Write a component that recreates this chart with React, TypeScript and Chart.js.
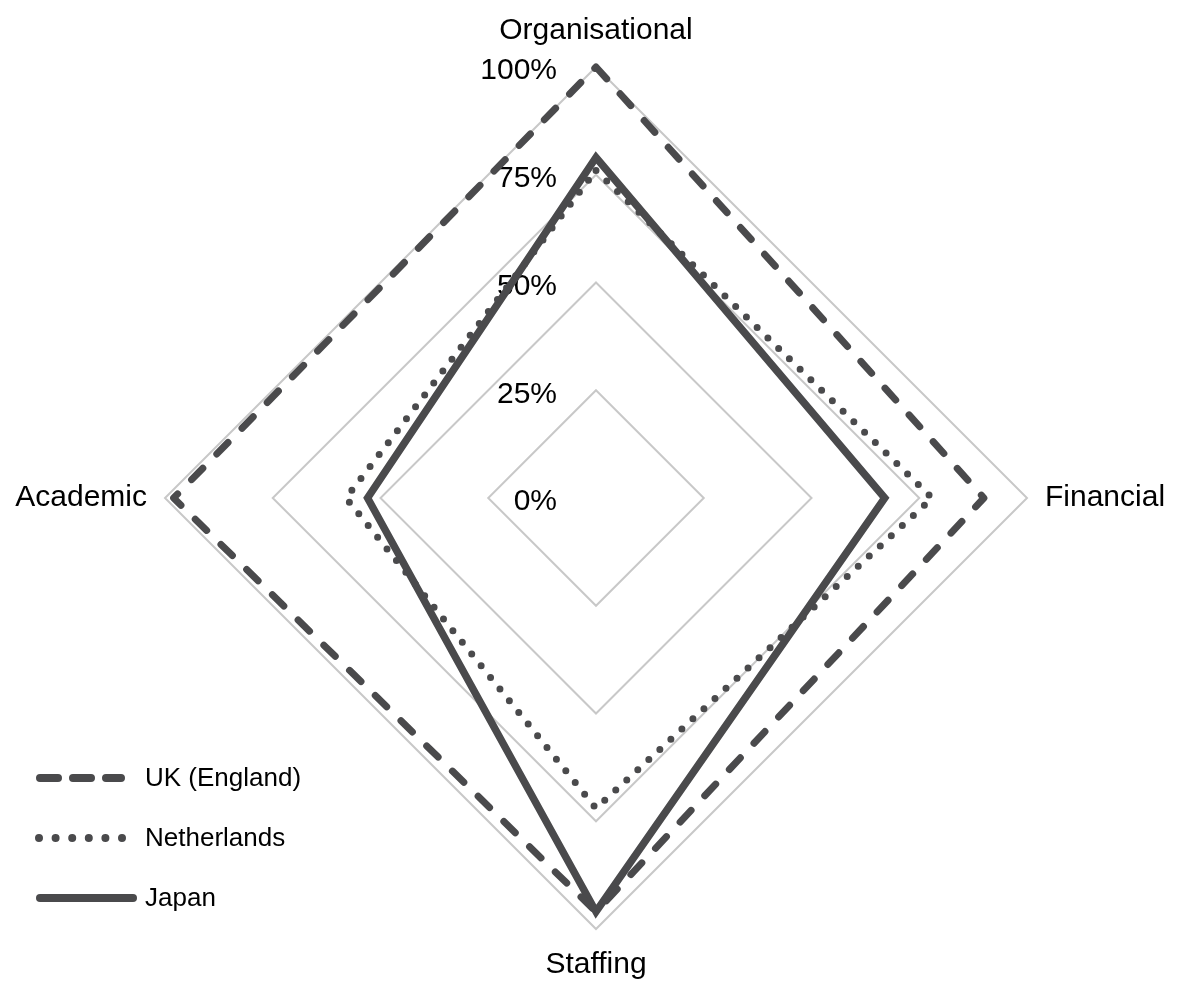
import { useEffect, useRef } from 'react';
import { Chart, registerables } from 'chart.js';

Chart.register(...registerables);

const categories = ['Organisational', 'Financial', 'Staffing', 'Academic'];
const seriesNames = ['UK (England)', 'Netherlands', 'Japan'];
const ukValues = [100, 90, 96, 98];
const nlValues = [76, 78, 72, 58];
const jpValues = [79, 67, 96, 53];
const tickValues = [0, 25, 50, 75, 100];
const tickLabels = ['0%', '25%', '50%', '75%', '100%'];

const LINE = '#4a4a4c';
const FONT = '"Liberation Sans", Arial, sans-serif';

const tickPlugin = {
  id: 'leftTicks',
  beforeDatasetsDraw(chart: any) {
    const scale = chart.scales.r;
    const ctx = chart.ctx;
    ctx.save();
    ctx.font = `30px ${FONT}`;
    ctx.fillStyle = '#000';
    ctx.textAlign = 'right';
    ctx.textBaseline = 'middle';
    tickValues.forEach((v, i) => {
      const d = scale.getDistanceFromCenterForValue(v);
      ctx.fillText(tickLabels[i], scale.xCenter - 39, scale.yCenter - d + 4);
    });
    ctx.restore();
  },
};

const legendStyles = [
  { dash: [18, 15], x1: 40, x2: 121 },
  { dash: [0, 16.6], x1: 39, x2: 122.5 },
  { dash: [], x1: 40, x2: 133 },
];

const legendPlugin = {
  id: 'customLegend',
  afterDraw(chart: any) {
    const ctx = chart.ctx;
    ctx.save();
    seriesNames.forEach((name, i) => {
      const y = 778 + i * 60;
      const st = legendStyles[i];
      ctx.beginPath();
      ctx.strokeStyle = LINE;
      ctx.lineWidth = 8;
      ctx.lineCap = 'round';
      ctx.setLineDash(st.dash);
      ctx.moveTo(st.x1, y);
      ctx.lineTo(st.x2, y);
      ctx.stroke();
      ctx.setLineDash([]);
      ctx.font = `26px ${FONT}`;
      ctx.fillStyle = '#000';
      ctx.textAlign = 'left';
      ctx.textBaseline = 'middle';
      ctx.fillText(name, 145, y + 1);
    });
    ctx.restore();
  },
};

export default function App() {
  const ref = useRef<HTMLCanvasElement | null>(null);
  useEffect(() => {
    if (!ref.current) return;
    const chart = new Chart(ref.current, {
      type: 'radar',
      data: {
        labels: categories,
        datasets: [
          {
            label: seriesNames[0],
            data: ukValues,
            borderColor: LINE,
            borderWidth: 7,
            borderDash: [16, 20],
            borderCapStyle: 'round',
            borderJoinStyle: 'round',
            fill: false,
            pointRadius: 0,
            pointHoverRadius: 0,
          },
          {
            label: seriesNames[1],
            data: nlValues,
            borderColor: LINE,
            borderWidth: 7,
            borderDash: [0, 15],
            borderCapStyle: 'round',
            borderJoinStyle: 'round',
            fill: false,
            pointRadius: 0,
            pointHoverRadius: 0,
          },
          {
            label: seriesNames[2],
            data: jpValues,
            borderColor: LINE,
            borderWidth: 7.5,
            borderJoinStyle: 'miter',
            fill: false,
            pointRadius: 0,
            pointHoverRadius: 0,
          },
        ],
      },
      options: {
        animation: false,
        responsive: true,
        maintainAspectRatio: false,
        layout: { padding: { top: 13, bottom: 5, left: 4, right: 0 } },
        plugins: {
          legend: { display: false },
          tooltip: { enabled: false },
        },
        scales: {
          r: {
            min: 0,
            max: 100,
            ticks: { stepSize: 25, display: false },
            grid: { color: '#c8c8c8', lineWidth: 2 },
            angleLines: { display: false },
            pointLabels: {
              padding: 18,
              color: '#000',
              font: { family: FONT, size: 30 },
            },
          },
        },
      },
      plugins: [tickPlugin, legendPlugin],
    } as any);
    return () => chart.destroy();
  }, []);
  return (
    <div style={{ position: 'fixed', left: 0, top: 0, width: 1178, height: 988, background: '#fff' }}>
      <canvas ref={ref} />
    </div>
  );
}
